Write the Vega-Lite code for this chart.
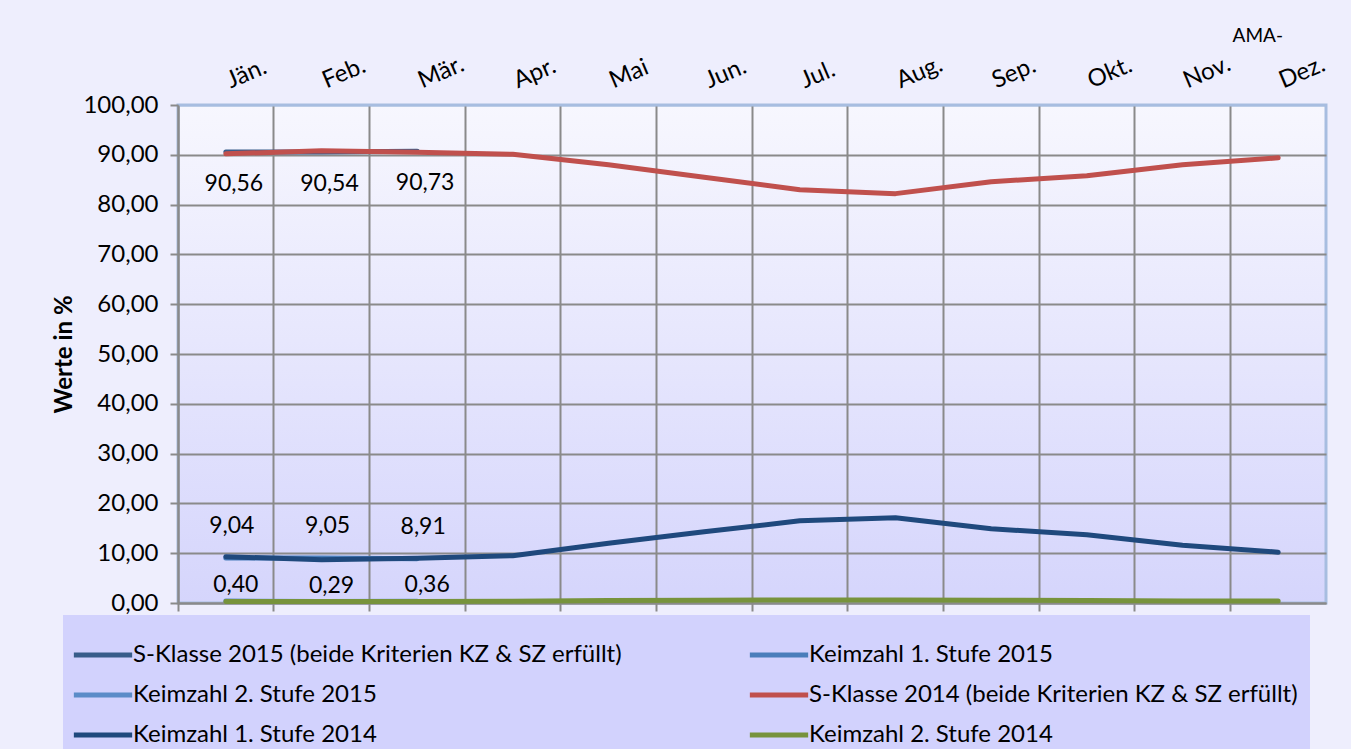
{
  "$schema": "https://vega.github.io/schema/vega-lite/v6.json",
  "width": 1148,
  "height": 498,
  "autosize": {"type": "none"},
  "padding": {"left": 178, "top": 105, "right": 25, "bottom": 146},
  "background": "#eeeefd",
  "title": {"text": "AMA-", "anchor": "end", "frame": "group", "fontSize": 19, "fontWeight": "normal", "font": "Lato", "color": "#000000", "dx": -43, "offset": 6},
  "config": {
    "locale": {"number": {"decimal": ",", "thousands": ".", "grouping": [3], "currency": ["", " €"]}},
    "font": "Lato",
    "view": {"stroke": "#a7bde0", "strokeWidth": 3, "fill": {"gradient": "linear", "x1": 0, "y1": 0, "x2": 0, "y2": 1, "stops": [{"offset": 0, "color": "#f7f7fe"}, {"offset": 1, "color": "#d5d5fc"}]}},
    "axis": {"domainColor": "#8a8a8a", "domainWidth": 2, "tickColor": "#8a8a8a", "tickWidth": 2, "gridColor": "#8a8a8a", "gridWidth": 2, "gridOpacity": 1, "labelColor": "#000000", "titleColor": "#000000"},
    "legend": {"orient": "none", "legendX": -115, "legendY": 510, "direction": "horizontal", "columns": 2, "columnPadding": 117, "rowPadding": 0, "padding": 12, "fillColor": "#d2d2fd", "symbolType": "M-1.15,0H1.15", "symbolSize": 2570, "symbolStrokeWidth": 5, "labelFontSize": 24, "labelColor": "#000000", "labelOffset": 2, "labelLimit": 700, "title": null}
  },
  "data": {"values": [
    {"Monat": "Jän.", "Serie": "S-Klasse 2015 (beide Kriterien KZ & SZ erfüllt)", "Wert": 90.56},
    {"Monat": "Feb.", "Serie": "S-Klasse 2015 (beide Kriterien KZ & SZ erfüllt)", "Wert": 90.54},
    {"Monat": "Mär.", "Serie": "S-Klasse 2015 (beide Kriterien KZ & SZ erfüllt)", "Wert": 90.73},
    {"Monat": "Jän.", "Serie": "Keimzahl 1. Stufe 2015", "Wert": 9.04},
    {"Monat": "Feb.", "Serie": "Keimzahl 1. Stufe 2015", "Wert": 9.05},
    {"Monat": "Mär.", "Serie": "Keimzahl 1. Stufe 2015", "Wert": 8.91},
    {"Monat": "Jän.", "Serie": "Keimzahl 2. Stufe 2015", "Wert": 0.40},
    {"Monat": "Feb.", "Serie": "Keimzahl 2. Stufe 2015", "Wert": 0.29},
    {"Monat": "Mär.", "Serie": "Keimzahl 2. Stufe 2015", "Wert": 0.36},
    {"Monat": "Jän.", "Serie": "S-Klasse 2014 (beide Kriterien KZ & SZ erfüllt)", "Wert": 90.2},
    {"Monat": "Feb.", "Serie": "S-Klasse 2014 (beide Kriterien KZ & SZ erfüllt)", "Wert": 90.8},
    {"Monat": "Mär.", "Serie": "S-Klasse 2014 (beide Kriterien KZ & SZ erfüllt)", "Wert": 90.5},
    {"Monat": "Apr.", "Serie": "S-Klasse 2014 (beide Kriterien KZ & SZ erfüllt)", "Wert": 90.1},
    {"Monat": "Mai", "Serie": "S-Klasse 2014 (beide Kriterien KZ & SZ erfüllt)", "Wert": 88.0},
    {"Monat": "Jun.", "Serie": "S-Klasse 2014 (beide Kriterien KZ & SZ erfüllt)", "Wert": 85.5},
    {"Monat": "Jul.", "Serie": "S-Klasse 2014 (beide Kriterien KZ & SZ erfüllt)", "Wert": 83.0},
    {"Monat": "Aug.", "Serie": "S-Klasse 2014 (beide Kriterien KZ & SZ erfüllt)", "Wert": 82.2},
    {"Monat": "Sep.", "Serie": "S-Klasse 2014 (beide Kriterien KZ & SZ erfüllt)", "Wert": 84.6},
    {"Monat": "Okt.", "Serie": "S-Klasse 2014 (beide Kriterien KZ & SZ erfüllt)", "Wert": 85.8},
    {"Monat": "Nov.", "Serie": "S-Klasse 2014 (beide Kriterien KZ & SZ erfüllt)", "Wert": 88.0},
    {"Monat": "Dez.", "Serie": "S-Klasse 2014 (beide Kriterien KZ & SZ erfüllt)", "Wert": 89.4},
    {"Monat": "Jän.", "Serie": "Keimzahl 1. Stufe 2014", "Wert": 9.3},
    {"Monat": "Feb.", "Serie": "Keimzahl 1. Stufe 2014", "Wert": 8.7},
    {"Monat": "Mär.", "Serie": "Keimzahl 1. Stufe 2014", "Wert": 9.0},
    {"Monat": "Apr.", "Serie": "Keimzahl 1. Stufe 2014", "Wert": 9.5},
    {"Monat": "Mai", "Serie": "Keimzahl 1. Stufe 2014", "Wert": 12.0},
    {"Monat": "Jun.", "Serie": "Keimzahl 1. Stufe 2014", "Wert": 14.3},
    {"Monat": "Jul.", "Serie": "Keimzahl 1. Stufe 2014", "Wert": 16.5},
    {"Monat": "Aug.", "Serie": "Keimzahl 1. Stufe 2014", "Wert": 17.1},
    {"Monat": "Sep.", "Serie": "Keimzahl 1. Stufe 2014", "Wert": 14.9},
    {"Monat": "Okt.", "Serie": "Keimzahl 1. Stufe 2014", "Wert": 13.7},
    {"Monat": "Nov.", "Serie": "Keimzahl 1. Stufe 2014", "Wert": 11.6},
    {"Monat": "Dez.", "Serie": "Keimzahl 1. Stufe 2014", "Wert": 10.2},
    {"Monat": "Jän.", "Serie": "Keimzahl 2. Stufe 2014", "Wert": 0.32},
    {"Monat": "Feb.", "Serie": "Keimzahl 2. Stufe 2014", "Wert": 0.28},
    {"Monat": "Mär.", "Serie": "Keimzahl 2. Stufe 2014", "Wert": 0.30},
    {"Monat": "Apr.", "Serie": "Keimzahl 2. Stufe 2014", "Wert": 0.35},
    {"Monat": "Mai", "Serie": "Keimzahl 2. Stufe 2014", "Wert": 0.50},
    {"Monat": "Jun.", "Serie": "Keimzahl 2. Stufe 2014", "Wert": 0.55},
    {"Monat": "Jul.", "Serie": "Keimzahl 2. Stufe 2014", "Wert": 0.60},
    {"Monat": "Aug.", "Serie": "Keimzahl 2. Stufe 2014", "Wert": 0.60},
    {"Monat": "Sep.", "Serie": "Keimzahl 2. Stufe 2014", "Wert": 0.55},
    {"Monat": "Okt.", "Serie": "Keimzahl 2. Stufe 2014", "Wert": 0.50},
    {"Monat": "Nov.", "Serie": "Keimzahl 2. Stufe 2014", "Wert": 0.40},
    {"Monat": "Dez.", "Serie": "Keimzahl 2. Stufe 2014", "Wert": 0.40}
  ]},
  "layer": [
    {
      "mark": {"type": "line", "strokeWidth": 5, "strokeCap": "round", "strokeJoin": "round"},
      "encoding": {
        "x": {"field": "Monat", "type": "nominal", "bandPosition": 0.5, "sort": ["Jän.", "Feb.", "Mär.", "Apr.", "Mai", "Jun.", "Jul.", "Aug.", "Sep.", "Okt.", "Nov.", "Dez."],
              "scale": {"type": "band", "paddingInner": 0, "paddingOuter": 0},
              "axis": {"orient": "bottom", "title": null, "labels": false, "ticks": true, "tickSize": 8, "grid": true, "bandPosition": 0}},
        "y": {"field": "Wert", "type": "quantitative", "scale": {"domain": [0, 100], "nice": false},
              "axis": {"title": "Werte in %", "titleFontSize": 24, "titleFontWeight": "bold", "titlePadding": 6, "values": [0, 10, 20, 30, 40, 50, 60, 70, 80, 90, 100], "format": ".2f", "labelFontSize": 24, "tickSize": 8, "labelPadding": 12, "grid": true,
                       "gridColor": {"condition": {"test": "datum.value === 100", "value": "#a7bde0"}, "value": "#8a8a8a"}}},
        "color": {"field": "Serie", "type": "nominal",
                  "scale": {"domain": ["S-Klasse 2015 (beide Kriterien KZ & SZ erfüllt)", "Keimzahl 1. Stufe 2015", "Keimzahl 2. Stufe 2015", "S-Klasse 2014 (beide Kriterien KZ & SZ erfüllt)", "Keimzahl 1. Stufe 2014", "Keimzahl 2. Stufe 2014"],
                            "range": ["#385d8a", "#4a7ebb", "#5b8cc8", "#c0504d", "#1f497d", "#77933c"]}}
      }
    },
    {
      "transform": [{"filter": "datum.Serie === 'S-Klasse 2015 (beide Kriterien KZ & SZ erfüllt)'"}],
      "mark": {"type": "text", "fontSize": 23, "dy": 32, "dx": 8, "color": "#000000"},
      "encoding": {
        "x": {"field": "Monat", "type": "nominal", "bandPosition": 0.5, "sort": ["Jän.", "Feb.", "Mär.", "Apr.", "Mai", "Jun.", "Jul.", "Aug.", "Sep.", "Okt.", "Nov.", "Dez."],
              "axis": {"orient": "top", "title": null, "labelAngle": -23, "labelAlign": "left", "labelBaseline": "alphabetic", "labelFontSize": 24, "labelPadding": 17, "labelOffset": 5, "ticks": false, "domain": false, "grid": false}},
        "y": {"field": "Wert", "type": "quantitative"},
        "text": {"field": "Wert", "type": "quantitative", "format": ".2f"}
      }
    },
    {
      "transform": [{"filter": "datum.Serie === 'Keimzahl 1. Stufe 2015'"}],
      "mark": {"type": "text", "fontSize": 23, "dy": -32, "dx": 6, "color": "#000000"},
      "encoding": {
        "x": {"field": "Monat", "type": "nominal", "bandPosition": 0.5, "sort": ["Jän.", "Feb.", "Mär.", "Apr.", "Mai", "Jun.", "Jul.", "Aug.", "Sep.", "Okt.", "Nov.", "Dez."], "axis": null},
        "y": {"field": "Wert", "type": "quantitative"},
        "text": {"field": "Wert", "type": "quantitative", "format": ".2f"}
      }
    },
    {
      "transform": [{"filter": "datum.Serie === 'Keimzahl 2. Stufe 2015'"}],
      "mark": {"type": "text", "fontSize": 23, "dy": -16, "dx": 10, "color": "#000000"},
      "encoding": {
        "x": {"field": "Monat", "type": "nominal", "bandPosition": 0.5, "sort": ["Jän.", "Feb.", "Mär.", "Apr.", "Mai", "Jun.", "Jul.", "Aug.", "Sep.", "Okt.", "Nov.", "Dez."], "axis": null},
        "y": {"field": "Wert", "type": "quantitative"},
        "text": {"field": "Wert", "type": "quantitative", "format": ".2f"}
      }
    }
  ],
  "resolve": {"axis": {"x": "independent"}}
}
